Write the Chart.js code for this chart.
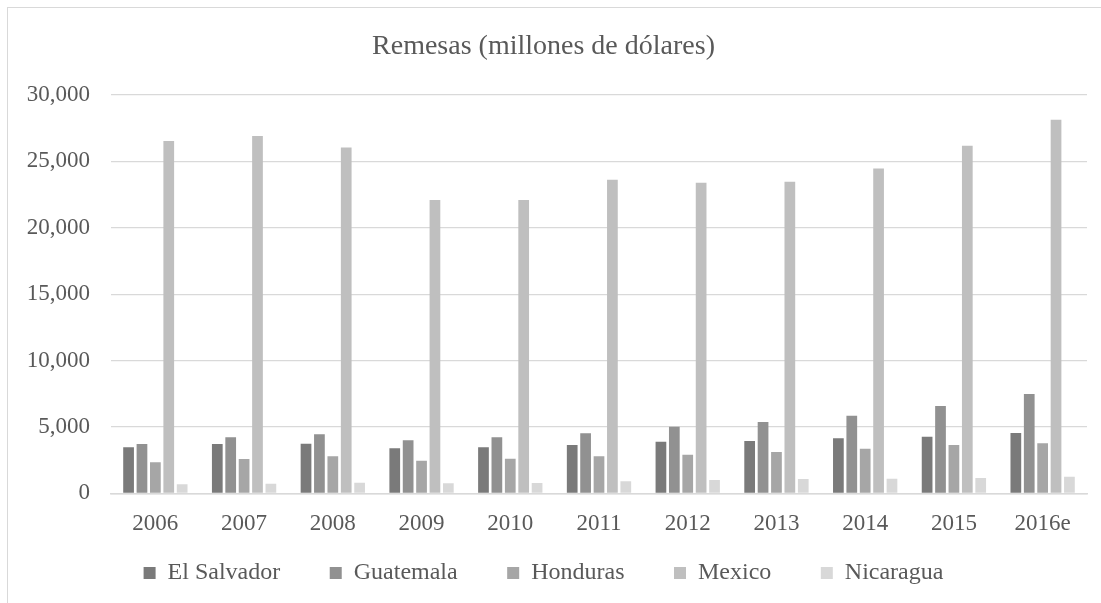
<!DOCTYPE html>
<html>
<head>
<meta charset="utf-8">
<script src="https://cdn.jsdelivr.net/npm/chart.js@4"></script>
<style>
  html, body { margin: 0; padding: 0; background: #fff; overflow: hidden; }
  #wrap { position: relative; width: 1101px; height: 603px; }
  #frame { position: absolute; left: 7px; top: 7px; width: 1200px; height: 700px; border: 1px solid #d9d9d9; box-sizing: border-box; }
  canvas { position: absolute; left: 0; top: 0; }
</style>
</head>
<body>
<div id="wrap">
  <div id="frame"></div>
  <canvas id="c" width="1101" height="603"></canvas>
</div>
<script>
const categories = ['2006','2007','2008','2009','2010','2011','2012','2013','2014','2015','2016e'];
const elSalvador = [3470, 3716, 3740, 3392, 3468, 3641, 3890, 3942, 4146, 4267, 4547];
const guatemala  = [3716, 4220, 4448, 3995, 4221, 4523, 5020, 5375, 5850, 6580, 7485];
const honduras   = [2337, 2585, 2790, 2457, 2608, 2789, 2910, 3113, 3362, 3640, 3770];
const mexico     = [26530, 26910, 26050, 22100, 22100, 23620, 23390, 23470, 24470, 26180, 28140];
const nicaragua  = [680, 725, 800, 754, 780, 905, 1003, 1078, 1100, 1150, 1250];
const yTicks = [0, 5000, 10000, 15000, 20000, 25000, 30000];

const FONT = '"Liberation Serif", "Times New Roman", serif';
const TXT = '#595959';

function ds(label, data, color) {
  return { label, data, backgroundColor: color, borderWidth: 0,
           categoryPercentage: 0.755, barPercentage: 0.8 };
}

new Chart(document.getElementById('c'), {
  type: 'bar',
  data: {
    labels: categories,
    datasets: [
      ds('El Salvador', elSalvador, '#7a7a7a'),
      ds('Guatemala', guatemala, '#919191'),
      ds('Honduras', honduras, '#a6a6a6'),
      ds('Mexico', mexico, '#bfbfbf'),
      ds('Nicaragua', nicaragua, '#d8d8d8')
    ]
  },
  options: {
    responsive: false,
    animation: false,
    layout: { padding: { left: 0, right: 14, top: 0, bottom: 8 } },
    plugins: {
      title: {
        display: true,
        text: 'Remesas (millones de dólares)',
        color: TXT,
        font: { family: FONT, size: 28, weight: 'normal', lineHeight: 1.2 },
        padding: { top: 29.5, bottom: 31.9 }
      },
      legend: {
        position: 'bottom',
        labels: {
          color: TXT,
          font: { family: FONT, size: 24 },
          boxWidth: 12, boxHeight: 12,
          padding: 49.5
        }
      },
      tooltip: { enabled: false }
    },
    scales: {
      x: {
        grid: { display: false, drawTicks: false },
        border: { display: true, color: '#d9d9d9', width: 1.5 },
        ticks: { color: TXT, font: { family: FONT, size: 23 }, mirror: true, padding: -44.5, maxRotation: 0 },
        afterFit: (s) => { s.height = 18.2; }
      },
      y: {
        min: 0, max: 30000,
        afterBuildTicks: (s) => { s.ticks = yTicks.map(v => ({ value: v })); },
        grid: { color: '#d9d9d9', lineWidth: 1.3, drawTicks: false },
        border: { display: false },
        ticks: {
          color: TXT, font: { family: FONT, size: 23 }, padding: 21,
          callback: (v) => v.toLocaleString('en-US')
        },
        afterFit: (s) => { s.width = 111; }
      }
    }
  }
});
</script>
</body>
</html>
